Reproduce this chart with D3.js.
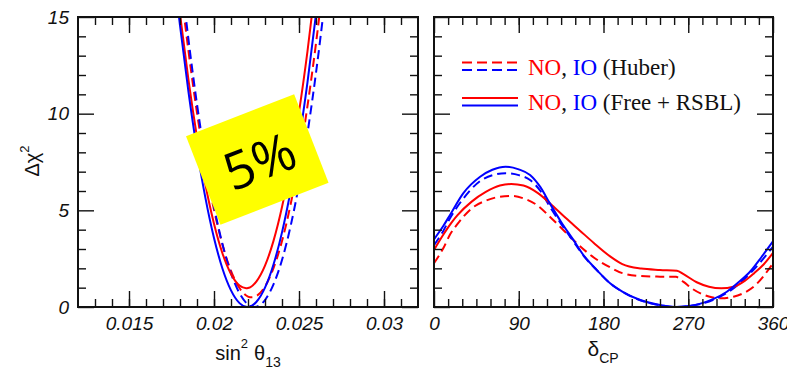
<!DOCTYPE html>
<html>
<head>
<meta charset="utf-8">
<script src="https://cdn.jsdelivr.net/npm/d3@7"></script>
<style>
  body { margin: 0; background: #fff; }
  svg { display: block; }
  .tick text { font-family: "Liberation Sans", Arial, sans-serif; font-style: italic; font-size: 19px; fill: #111; }
  .tick line { stroke: #111; stroke-width: 1.4; }
</style>
</head>
<body>
<svg id="chart" width="787" height="374"></svg>
<script>
// ---- Δχ² profiles versus sin²θ13 ----
const s13MajorTicks = [0.015, 0.02, 0.025, 0.03];
const s13MinorTicks = d3.range(13, 32).map(v => v / 1000);

const s13_NO_free = [[0.0178,16.64],[0.0180,15.15],[0.0185,11.73],[0.0190,8.79],[0.0195,6.31],[0.0200,4.31],[0.0205,2.77],[0.0210,1.71],[0.0215,1.11],[0.02189,0.97],[0.0220,0.98],[0.0225,1.33],[0.0230,2.14],[0.0235,3.42],[0.0240,5.17],[0.0245,7.39],[0.0250,10.08],[0.0255,13.24],[0.0260,16.87]];
const s13_IO_free = [[0.0178,16.06],[0.0180,14.56],[0.0185,11.11],[0.0190,8.13],[0.0195,5.62],[0.0200,3.57],[0.0205,1.98],[0.0210,0.86],[0.0215,0.20],[0.02196,0.0],[0.0225,0.27],[0.0230,1.00],[0.0235,2.20],[0.0240,3.86],[0.0245,5.99],[0.0250,8.58],[0.0255,11.63],[0.0260,15.15],[0.0262,16.69]];
const s13_NO_huber = [[0.0180,16.88],[0.0185,13.23],[0.0190,10.04],[0.0195,7.31],[0.0200,5.03],[0.0205,3.22],[0.0210,1.87],[0.0215,0.98],[0.0220,0.54],[0.02222,0.50],[0.0225,0.57],[0.0230,1.06],[0.0235,2.01],[0.0240,3.41],[0.0245,5.28],[0.0250,7.61],[0.0255,10.40],[0.0260,13.64],[0.0265,17.35]];
const s13_IO_huber = [[0.0180,17.63],[0.0185,13.83],[0.0190,10.49],[0.0195,7.62],[0.0200,5.20],[0.0205,3.24],[0.0210,1.74],[0.0215,0.71],[0.0220,0.13],[0.02238,0.0],[0.0230,0.36],[0.0235,1.17],[0.0240,2.43],[0.0245,4.16],[0.0250,6.35],[0.0255,9.00],[0.0260,12.11],[0.0265,15.68]];

// ---- Δχ² profiles versus δCP (degrees) ----
const dcpMajorTicks = [0, 90, 180, 270, 360];
const dcpMinorTicks = d3.range(15, 360, 15);

const dcp_NO_free = [[0,2.95],[10,3.75],[20,4.45],[25,4.75],[40,5.45],[55,5.95],[70,6.28],[82,6.36],[95,6.28],[110,5.9],[125,5.28],[140,4.6],[155,3.95],[170,3.3],[187,2.62],[200,2.22],[220,1.99],[240,1.92],[258,1.88],[265,1.7],[279,1.28],[292,1.05],[305,0.97],[318,1.05],[330,1.35],[340,1.75],[350,2.2],[360,2.8]];
const dcp_NO_huber = [[0,2.26],[10,3.05],[17,3.75],[25,4.3],[40,5.1],[55,5.5],[70,5.7],[83,5.74],[95,5.62],[110,5.25],[123,4.67],[137,4.0],[152,3.28],[170,2.55],[187,2.05],[200,1.75],[220,1.6],[240,1.57],[257,1.56],[265,1.3],[275,0.92],[285,0.66],[295,0.5],[305,0.45],[318,0.53],[330,0.75],[340,1.07],[350,1.6],[360,2.26]];
const dcp_IO_free = [[0,3.5],[10,4.2],[17,4.76],[31,5.88],[49,6.74],[62,7.1],[76,7.26],[90,7.12],[102,6.83],[113,6.2],[123,5.36],[135,4.4],[148,3.47],[160,2.6],[173,1.91],[187,1.23],[200,0.8],[219,0.36],[240,0.1],[256,0.0],[270,0.05],[282,0.16],[297,0.42],[311,0.79],[324,1.3],[336,1.85],[348,2.6],[360,3.4]];
const dcp_IO_huber = [[0,3.2],[10,3.95],[17,4.59],[31,5.6],[48,6.48],[62,6.82],[76,6.92],[90,6.82],[102,6.57],[113,6.0],[123,5.19],[135,4.3],[148,3.4],[160,2.58],[173,1.9],[187,1.22],[200,0.79],[219,0.35],[240,0.09],[256,0.0],[270,0.04],[282,0.14],[297,0.38],[311,0.73],[324,1.2],[336,1.75],[348,2.4],[360,3.12]];

const chiMajorTicks = [0, 5, 10, 15];
const chiMinorTicks = d3.range(1, 15).filter(v => v % 5 !== 0);

const RED = "#ff0000", BLUE = "#0000ff";
const seriesStyle = {
  NO_free:  { color: RED,  dash: null },
  IO_free:  { color: BLUE, dash: null },
  NO_huber: { color: RED,  dash: "9,5" },
  IO_huber: { color: BLUE, dash: "9,5" }
};

const svg = d3.select("#chart");
const plotTop = 17, plotBottom = 307;

const y = d3.scaleLinear().domain([0, 15]).range([plotBottom, plotTop]);
const xS = d3.scaleLinear().domain([0.012, 0.032]).range([78, 418]);
const xD = d3.scaleLinear().domain([0, 360]).range([434, 773]);

function frameAxes(x, majors, minors, showY) {
  const [x0, x1] = x.range();
  const g = svg.append("g");
  const fmt = d => String(d);
  // bottom
  g.append("g").attr("transform", `translate(0,${plotBottom})`)
    .call(d3.axisBottom(x).tickValues(minors).tickSize(-8).tickFormat(""));
  g.append("g").attr("transform", `translate(0,${plotBottom})`)
    .call(d3.axisBottom(x).tickValues(majors).tickSize(-16).tickPadding(9.5).tickFormat(fmt));
  // top
  g.append("g").attr("transform", `translate(0,${plotTop})`)
    .call(d3.axisTop(x).tickValues(minors).tickSize(-8).tickFormat(""));
  g.append("g").attr("transform", `translate(0,${plotTop})`)
    .call(d3.axisTop(x).tickValues(majors).tickSize(-16).tickFormat(""));
  // left
  g.append("g").attr("transform", `translate(${x0},0)`)
    .call(d3.axisLeft(y).tickValues(chiMinorTicks).tickSize(-8).tickFormat(""));
  g.append("g").attr("transform", `translate(${x0},0)`)
    .call(d3.axisLeft(y).tickValues(chiMajorTicks).tickSize(-16).tickPadding(9).tickFormat(showY ? fmt : ""));
  // right
  g.append("g").attr("transform", `translate(${x1},0)`)
    .call(d3.axisRight(y).tickValues(chiMinorTicks).tickSize(-8).tickFormat(""));
  g.append("g").attr("transform", `translate(${x1},0)`)
    .call(d3.axisRight(y).tickValues(chiMajorTicks).tickSize(-16).tickFormat(""));
  g.selectAll(".domain").remove();
  g.append("rect").attr("x", x0).attr("y", plotTop).attr("width", x1 - x0).attr("height", plotBottom - plotTop)
    .attr("fill", "none").attr("stroke", "#111").attr("stroke-width", 2);
  return g;
}

function drawCurves(x, curves, clipId) {
  const [x0, x1] = x.range();
  svg.append("clipPath").attr("id", clipId).append("rect")
    .attr("x", x0).attr("y", plotTop).attr("width", x1 - x0).attr("height", plotBottom - plotTop);
  const line = d3.line().x(d => x(d[0])).y(d => y(d[1])).curve(d3.curveMonotoneX);
  const g = svg.append("g").attr("clip-path", `url(#${clipId})`);
  curves.forEach(([data, key]) => {
    const st = seriesStyle[key];
    g.append("path").datum(data).attr("d", line)
      .attr("fill", "none").attr("stroke", st.color).attr("stroke-width", 2)
      .attr("stroke-dasharray", st.dash);
  });
}

// left panel
drawCurves(xS, [[s13_NO_huber, "NO_huber"], [s13_IO_huber, "IO_huber"], [s13_NO_free, "NO_free"], [s13_IO_free, "IO_free"]], "clipL");
frameAxes(xS, s13MajorTicks, s13MinorTicks, true);

// right panel
drawCurves(xD, [[dcp_NO_huber, "NO_huber"], [dcp_IO_huber, "IO_huber"], [dcp_NO_free, "NO_free"], [dcp_IO_free, "IO_free"]], "clipR");
frameAxes(xD, dcpMajorTicks, dcpMinorTicks, false);

// axis titles
const sans = '"Liberation Sans", Arial, sans-serif';
svg.append("text").attr("transform", "translate(39,161) rotate(-90)")
  .attr("text-anchor", "middle").attr("font-family", sans).attr("font-size", 20).attr("fill", "#111")
  .call(t => { t.append("tspan").text("Δχ"); t.append("tspan").attr("dy", -10).attr("font-size", 13).text("2"); });

svg.append("text").attr("x", 248).attr("y", 360).attr("text-anchor", "middle")
  .attr("font-family", sans).attr("font-size", 20).attr("fill", "#111")
  .call(t => {
    t.append("tspan").text("sin");
    t.append("tspan").attr("dy", -12).attr("font-size", 13).text("2");
    t.append("tspan").attr("dy", 12).attr("dx", 6).text("θ");
    t.append("tspan").attr("dy", 7).attr("font-size", 14).text("13");
  });

svg.append("text").attr("x", 603).attr("y", 356).attr("text-anchor", "middle")
  .attr("font-family", sans).attr("font-size", 21).attr("fill", "#111")
  .call(t => {
    t.append("tspan").text("δ");
    t.append("tspan").attr("dy", 7).attr("font-size", 14).text("CP");
  });

// legend
const legendRows = [
  { keys: ["NO_huber", "IO_huber"], label: "(Huber)", ly: 62.5, ty: 74.5 },
  { keys: ["NO_free", "IO_free"], label: "(Free + RSBL)", ly: 98, ty: 109.5 }
];
const serif = '"Liberation Serif", "Times New Roman", serif';
legendRows.forEach(row => {
  row.keys.forEach((k, i) => {
    const st = seriesStyle[k];
    svg.append("line").attr("x1", 462).attr("x2", 518)
      .attr("y1", row.ly + i * 7.5).attr("y2", row.ly + i * 7.5)
      .attr("stroke", st.color).attr("stroke-width", 2).attr("stroke-dasharray", st.dash ? "10,5" : null);
  });
  const t = svg.append("text").attr("x", 528).attr("y", row.ty)
    .attr("font-family", serif).attr("font-size", 23).attr("fill", "#111");
  t.append("tspan").attr("fill", RED).text("NO");
  t.append("tspan").text(", ");
  t.append("tspan").attr("fill", BLUE).text("IO");
  t.append("tspan").text(" " + row.label);
});

// yellow badge
const badge = svg.append("g").attr("transform", "translate(257.3,159.5) rotate(-21.25)");
badge.append("rect").attr("x", -58).attr("y", -47.5).attr("width", 116).attr("height", 95).attr("fill", "#ffff00");
badge.append("text").attr("x", 1.5).attr("y", 21).attr("text-anchor", "middle")
  .attr("font-family", '"Open Sans", "Noto Sans", sans-serif').attr("font-size", 52).attr("fill", "#000")
  .text("5%");
</script>
</body>
</html>
